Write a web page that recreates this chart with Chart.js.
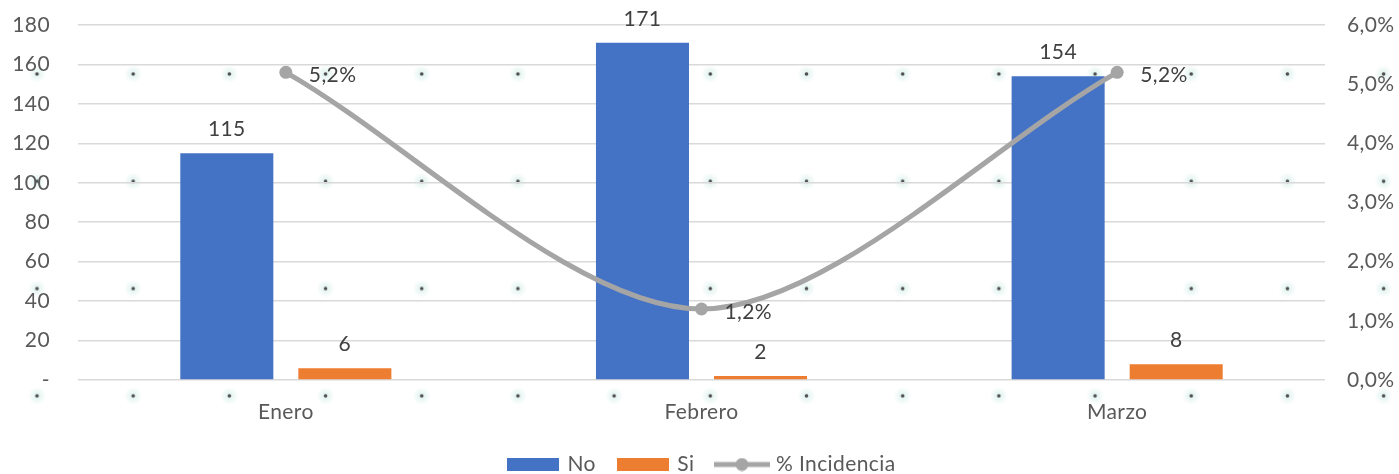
<!DOCTYPE html>
<html lang="es">
<head>
<meta charset="utf-8">
<title>Incidencia mensual</title>
<script src="https://cdn.jsdelivr.net/npm/chart.js@4.4.1/dist/chart.umd.min.js"></script>
<style>
  html, body { margin: 0; padding: 0; background: #ffffff; }
  #wrap {
    position: relative;
    width: 1399px;
    height: 474px;
    /* dotted backdrop behind the plot */
    background-image: radial-gradient(circle at center,
      rgba(70,70,70,0.95) 0, rgba(70,70,70,0.95) 1.2px,
      rgba(150,215,200,0.25) 2.2px, rgba(150,215,200,0) 9px);
    background-size: 96.2px 107.3px;
    background-position: -11.1px 20.35px;
  }
  canvas { display: block; }
</style>
</head>
<body>
<div id="wrap"><canvas id="chart"></canvas></div>
<script>
// Monthly counts and incidence percentage
const months = ['Enero', 'Febrero', 'Marzo'];
const noValues = [115, 171, 154];
const siValues = [6, 2, 8];
const incidencePct = [5.2, 1.2, 5.2];

const leftTicks = { min: 0, max: 180, step: 20 };
const rightTicks = { min: 0, max: 6, step: 1 };

const BLUE = '#4472C4';
const ORANGE = '#ED7D31';
const GREY = '#A5A5A5';
const TEXT = '#595959';
const LABEL = '#404040';
const FONT_SIZE = 21;

function pctText(v) {
  return v.toFixed(1).replace('.', ',') + '%';
}

// Legend swatches drawn on small canvases
function swatchBox(color) {
  const c = document.createElement('canvas');
  c.width = 52; c.height = 13;
  const g = c.getContext('2d');
  g.fillStyle = color;
  g.fillRect(0, 0, 52, 13);
  return c;
}
function swatchLine(color) {
  const c = document.createElement('canvas');
  c.width = 56; c.height = 14;
  const g = c.getContext('2d');
  g.strokeStyle = color;
  g.lineWidth = 5;
  g.beginPath(); g.moveTo(0, 7); g.lineTo(56, 7); g.stroke();
  g.fillStyle = color;
  g.beginPath(); g.arc(28, 7, 6.5, 0, Math.PI * 2); g.fill();
  return c;
}

// Slightly open letter spacing for all canvas text
const textSpacing = {
  id: 'textSpacing',
  beforeDraw(chart) {
    if ('letterSpacing' in chart.ctx) chart.ctx.letterSpacing = '0.4px';
  }
};

// Value labels above bars and beside line points
const valueLabels = {
  id: 'valueLabels',
  afterDatasetsDraw(chart) {
    const ctx = chart.ctx;
    ctx.save();
    ctx.font = FONT_SIZE + 'px Lato';
    ctx.fillStyle = LABEL;
    ctx.textBaseline = 'middle';
    chart.data.datasets.forEach((ds, i) => {
      const meta = chart.getDatasetMeta(i);
      meta.data.forEach((el, j) => {
        const v = ds.data[j];
        if (ds.type === 'line') {
          ctx.textAlign = 'left';
          ctx.fillText(pctText(v), el.x + 23, el.y + 3);
        } else {
          ctx.textAlign = 'center';
          ctx.fillText(String(v), el.x, el.y - 24);
        }
      });
    });
    ctx.restore();
  }
};

// Keep the vertical axes from reserving extra room above/below the plot
function fixVertical(width) {
  return function (scale) {
    scale.width = width;
    scale.paddingTop = 0;
    scale.paddingBottom = 0;
  };
}

function draw() {
  Chart.defaults.font.family = 'Lato';
  Chart.defaults.font.size = FONT_SIZE;
  Chart.defaults.color = TEXT;

  const swatches = [swatchBox(BLUE), swatchBox(ORANGE), swatchLine(GREY)];

  new Chart(document.getElementById('chart'), {
    data: {
      labels: months,
      datasets: [
        {
          type: 'bar', label: 'No', data: noValues, yAxisID: 'y',
          backgroundColor: BLUE, order: 2,
          categoryPercentage: 0.568, barPercentage: 0.788
        },
        {
          type: 'bar', label: 'Si', data: siValues, yAxisID: 'y',
          backgroundColor: ORANGE, order: 2,
          categoryPercentage: 0.568, barPercentage: 0.788
        },
        {
          type: 'line', label: '% Incidencia', data: incidencePct, yAxisID: 'y1',
          borderColor: GREY, backgroundColor: GREY, borderWidth: 5,
          pointRadius: 6.5, pointHoverRadius: 6.5, pointBackgroundColor: GREY,
          pointBorderWidth: 0, tension: 0.3, order: 0, clip: false
        }
      ]
    },
    options: {
      responsive: true,
      maintainAspectRatio: false,
      animation: false,
      layout: { autoPadding: false, padding: { top: 25, left: 0, right: 0, bottom: -11 } },
      plugins: {
        tooltip: { enabled: false },
        legend: {
          position: 'bottom',
          labels: {
            usePointStyle: true,
            pointStyleWidth: 47,
            boxHeight: 13,
            padding: 24,
            color: TEXT,
            font: { size: FONT_SIZE },
            generateLabels(chart) {
              return chart.data.datasets.map((ds, i) => ({
                text: ds.label,
                pointStyle: swatches[i],
                fillStyle: 'transparent',
                strokeStyle: 'transparent',
                lineWidth: 0,
                hidden: false,
                datasetIndex: i,
                fontColor: TEXT
              }));
            }
          }
        }
      },
      scales: {
        x: {
          grid: { display: false },
          border: { display: false },
          ticks: { padding: 12, color: TEXT },
          afterFit(scale) { scale.height = 50; }
        },
        y: {
          position: 'left',
          min: leftTicks.min, max: leftTicks.max,
          grid: { color: '#d9d9d9', lineWidth: 1.5, drawTicks: false },
          border: { display: false },
          ticks: {
            stepSize: leftTicks.step, padding: 28, color: TEXT,
            callback: v => (v === 0 ? '-' : String(v))
          },
          afterFit: fixVertical(78)
        },
        y1: {
          position: 'right',
          min: rightTicks.min, max: rightTicks.max,
          grid: { display: false, drawTicks: false },
          border: { display: false },
          ticks: {
            stepSize: rightTicks.step, padding: 22, color: TEXT,
            callback: v => pctText(v)
          },
          afterFit: fixVertical(74)
        }
      }
    },
    plugins: [textSpacing, valueLabels]
  });
}

if (document.fonts && document.fonts.load) {
  document.fonts.load(FONT_SIZE + 'px Lato').then(draw, draw);
} else {
  draw();
}
</script>
</body>
</html>
